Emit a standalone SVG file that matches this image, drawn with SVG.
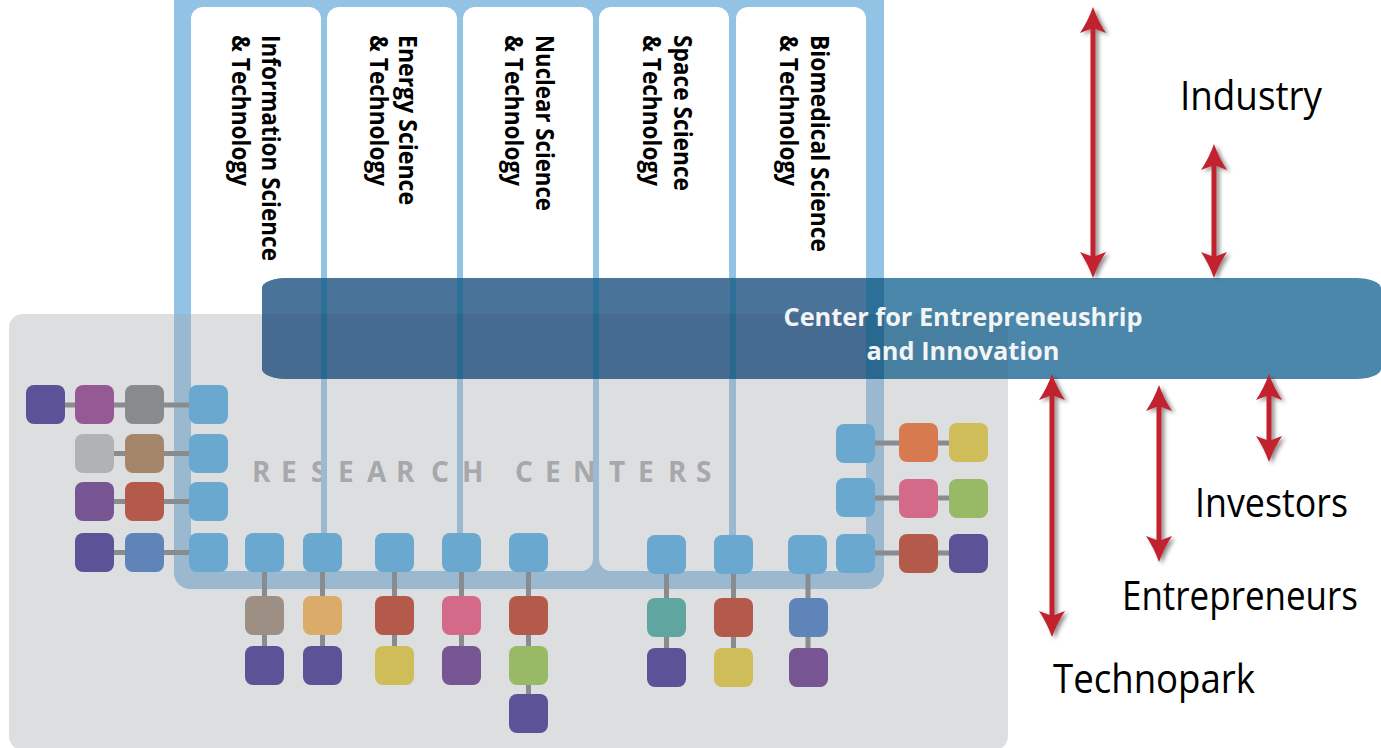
<svg xmlns="http://www.w3.org/2000/svg" width="1381" height="748" viewBox="0 0 1381 748">
<style>
.sq{width:39px;height:39px;}
.col{fill:#ffffff;}
.lbl{font-family:"Open Sans","Liberation Sans",sans-serif;font-weight:700;font-size:25px;fill:#000;}
.ext{font-family:"Open Sans","Liberation Sans",sans-serif;font-weight:400;font-size:40px;fill:#000;}
.band{font-family:"Open Sans","Liberation Sans",sans-serif;font-weight:700;font-size:25px;fill:#F2F4F6;}
.rc{font-family:"Open Sans","Liberation Sans",sans-serif;font-weight:700;font-size:28px;fill:#A7A8AC;}
.con line{stroke:#898B8F;stroke-width:5;}
.arr line{stroke:#C1202F;stroke-width:5;marker-start:url(#ah);marker-end:url(#ah);}
.b{fill:#6AA8CF}.ind{fill:#5A5398}.mag{fill:#955A95}.gr{fill:#898A8E}.lg{fill:#B1B2B5}.br{fill:#A5866A}
.pu{fill:#775593}.rd{fill:#B45A4A}.bl{fill:#5F84B9}.tp{fill:#9E8F85}.or{fill:#DBAB6A}.pk{fill:#D36A89}
.ye{fill:#CFBD5A}.gn{fill:#98B966}.te{fill:#5FA5A0}.oo{fill:#D87A50}
</style>
<defs>
<marker id="ah" markerUnits="userSpaceOnUse" markerWidth="26" markerHeight="28" viewBox="0 0 26 28" refX="6" refY="14" orient="auto-start-reverse">
<path d="M26,14 Q12,9 0,1 L5,14 L0,27 Q12,19 26,14 Z" fill="#C1202F"/>
</marker>
<filter id="sh" x="-50%" y="-10%" width="200%" height="120%">
<feDropShadow dx="3" dy="2" stdDeviation="2" flood-color="#000" flood-opacity="0.45"/>
</filter>
<rect id="bandShape" x="262" y="278" width="1119" height="101" rx="25" ry="10"/>
<clipPath id="bandClip"><use href="#bandShape"/></clipPath>
<rect id="s" width="39" height="39" rx="8"/>
</defs>
<rect width="1381" height="748" fill="#ffffff"/>

<g id="frame">
<rect x="174" y="-20" width="710" height="609" rx="16" fill="#92C3E5"/>
</g>
<g id="col-information">
<rect class="col" x="191" y="7" width="130" height="564" rx="12"/>
<text class="lbl" transform="translate(262,35) rotate(90)" textLength="226" lengthAdjust="spacingAndGlyphs">Information Science</text>
<text class="lbl" transform="translate(232,35) rotate(90)" textLength="151" lengthAdjust="spacingAndGlyphs">&amp; Technology</text>
</g>
<g id="col-energy">
<rect class="col" x="327" y="7" width="130" height="564" rx="12"/>
<text class="lbl" transform="translate(399,35) rotate(90)" textLength="170" lengthAdjust="spacingAndGlyphs">Energy Science</text>
<text class="lbl" transform="translate(370,35) rotate(90)" textLength="151" lengthAdjust="spacingAndGlyphs">&amp; Technology</text>
</g>
<g id="col-nuclear">
<rect class="col" x="463" y="7" width="130" height="564" rx="12"/>
<text class="lbl" transform="translate(536,35) rotate(90)" textLength="176" lengthAdjust="spacingAndGlyphs">Nuclear Science</text>
<text class="lbl" transform="translate(505,35) rotate(90)" textLength="151" lengthAdjust="spacingAndGlyphs">&amp; Technology</text>
</g>
<g id="col-space">
<rect class="col" x="599" y="7" width="130" height="564" rx="12"/>
<text class="lbl" transform="translate(674,35) rotate(90)" textLength="156" lengthAdjust="spacingAndGlyphs">Space Science</text>
<text class="lbl" transform="translate(643,35) rotate(90)" textLength="151" lengthAdjust="spacingAndGlyphs">&amp; Technology</text>
</g>
<g id="col-biomedical">
<rect class="col" x="736" y="7" width="130" height="564" rx="12"/>
<text class="lbl" transform="translate(811,35) rotate(90)" textLength="217" lengthAdjust="spacingAndGlyphs">Biomedical Science</text>
<text class="lbl" transform="translate(780,35) rotate(90)" textLength="151" lengthAdjust="spacingAndGlyphs">&amp; Technology</text>
</g>

<g id="research-centers">
<rect x="9" y="314" width="999" height="436" rx="14" fill="#A8AAAF" fill-opacity="0.39"/>
<text class="rc" y="482" x="252 281 311 338 367 396 431 462 490 515 545 573 609 638 668 696">RESEARCH CENTERS</text>
<g fill="#9BB9D0">
<rect x="321" y="440" width="6" height="60"/>
<rect x="457" y="440" width="6" height="60"/>
<rect x="593" y="440" width="6" height="60"/>
</g>
</g>

<g id="cei">
<use href="#bandShape" fill="#4B87AA"/>
<g clip-path="url(#bandClip)">
<rect x="262" y="278" width="605" height="101" fill="#4A7399"/>
<g fill="#2C6F98">
<rect x="866" y="278" width="18" height="101"/>
<rect x="321" y="278" width="6" height="101"/>
<rect x="457" y="278" width="6" height="101"/>
<rect x="593" y="278" width="6" height="101"/>
<rect x="730" y="278" width="6" height="101"/>
</g>
<rect x="250" y="314" width="758" height="70" fill="#000" fill-opacity="0.06"/>
</g>
<text class="band" x="963" y="326" text-anchor="middle" textLength="359" lengthAdjust="spacingAndGlyphs">Center for Entrepreneushrip</text>
<text class="band" x="963" y="360" text-anchor="middle" textLength="193" lengthAdjust="spacingAndGlyphs">and Innovation</text>
</g>

<g id="connectors" class="con">
<line x1="60" y1="405" x2="195" y2="405"/>
<line x1="110" y1="453.5" x2="195" y2="453.5"/>
<line x1="110" y1="501.5" x2="195" y2="501.5"/>
<line x1="110" y1="552.5" x2="195" y2="552.5"/>
<line x1="264.5" y1="568" x2="264.5" y2="650"/>
<line x1="322.5" y1="568" x2="322.5" y2="650"/>
<line x1="394.5" y1="568" x2="394.5" y2="650"/>
<line x1="461.5" y1="568" x2="461.5" y2="650"/>
<line x1="528.5" y1="568" x2="528.5" y2="700"/>
<line x1="666.5" y1="570" x2="666.5" y2="652"/>
<line x1="733.5" y1="570" x2="733.5" y2="652"/>
<line x1="808" y1="570" x2="808" y2="652"/>
<line x1="870" y1="443" x2="955" y2="443"/>
<line x1="870" y1="498" x2="955" y2="498"/>
<line x1="870" y1="553" x2="955" y2="553"/>
</g>

<g id="nodes-left">
<g id="n-l1a"><use href="#s" x="26" y="385" class="ind"/></g>
<g id="n-l1b"><use href="#s" x="75" y="385" class="mag"/></g>
<g id="n-l1c"><use href="#s" x="125" y="385" class="gr"/></g>
<g id="n-l1d"><use href="#s" x="189" y="385" class="b"/></g>
<g id="n-l2a"><use href="#s" x="75" y="434" class="lg"/></g>
<g id="n-l2b"><use href="#s" x="125" y="434" class="br"/></g>
<g id="n-l2c"><use href="#s" x="189" y="434" class="b"/></g>
<g id="n-l3a"><use href="#s" x="75" y="482" class="pu"/></g>
<g id="n-l3b"><use href="#s" x="125" y="482" class="rd"/></g>
<g id="n-l3c"><use href="#s" x="189" y="482" class="b"/></g>
<g id="n-l4a"><use href="#s" x="75" y="533" class="ind"/></g>
<g id="n-l4b"><use href="#s" x="125" y="533" class="bl"/></g>
<g id="n-l4c"><use href="#s" x="189" y="533" class="b"/></g>
</g>

<g id="nodes-bottom">
<g id="n-b1a"><use href="#s" x="245" y="533" class="b"/></g>
<g id="n-b1b"><use href="#s" x="245" y="596" class="tp"/></g>
<g id="n-b1c"><use href="#s" x="245" y="646" class="ind"/></g>
<g id="n-b2a"><use href="#s" x="303" y="533" class="b"/></g>
<g id="n-b2b"><use href="#s" x="303" y="596" class="or"/></g>
<g id="n-b2c"><use href="#s" x="303" y="646" class="ind"/></g>
<g id="n-b3a"><use href="#s" x="375" y="533" class="b"/></g>
<g id="n-b3b"><use href="#s" x="375" y="596" class="rd"/></g>
<g id="n-b3c"><use href="#s" x="375" y="646" class="ye"/></g>
<g id="n-b4a"><use href="#s" x="442" y="533" class="b"/></g>
<g id="n-b4b"><use href="#s" x="442" y="596" class="pk"/></g>
<g id="n-b4c"><use href="#s" x="442" y="646" class="pu"/></g>
<g id="n-b5a"><use href="#s" x="509" y="533" class="b"/></g>
<g id="n-b5b"><use href="#s" x="509" y="596" class="rd"/></g>
<g id="n-b5c"><use href="#s" x="509" y="646" class="gn"/></g>
<g id="n-b5d"><use href="#s" x="509" y="694" class="ind"/></g>
<g id="n-b6a"><use href="#s" x="647" y="535" class="b"/></g>
<g id="n-b6b"><use href="#s" x="647" y="598" class="te"/></g>
<g id="n-b6c"><use href="#s" x="647" y="648" class="ind"/></g>
<g id="n-b7a"><use href="#s" x="714" y="535" class="b"/></g>
<g id="n-b7b"><use href="#s" x="714" y="598" class="rd"/></g>
<g id="n-b7c"><use href="#s" x="714" y="648" class="ye"/></g>
<g id="n-b8a"><use href="#s" x="788" y="535" class="b"/></g>
<g id="n-b8b"><use href="#s" x="789" y="598" class="bl"/></g>
<g id="n-b8c"><use href="#s" x="789" y="648" class="pu"/></g>
</g>

<g id="nodes-right">
<g id="n-r1a"><use href="#s" x="836" y="424" class="b"/></g>
<g id="n-r1b"><use href="#s" x="899" y="423" class="oo"/></g>
<g id="n-r1c"><use href="#s" x="949" y="423" class="ye"/></g>
<g id="n-r2a"><use href="#s" x="836" y="478" class="b"/></g>
<g id="n-r2b"><use href="#s" x="899" y="479" class="pk"/></g>
<g id="n-r2c"><use href="#s" x="949" y="479" class="gn"/></g>
<g id="n-r3a"><use href="#s" x="836" y="534" class="b"/></g>
<g id="n-r3b"><use href="#s" x="899" y="534" class="rd"/></g>
<g id="n-r3c"><use href="#s" x="949" y="534" class="ind"/></g>
</g>

<g id="arrows" class="arr" filter="url(#sh)">
<line x1="1093" y1="27" x2="1093" y2="258"/>
<line x1="1214" y1="164" x2="1214" y2="258"/>
<line x1="1052" y1="394" x2="1052" y2="617"/>
<line x1="1159" y1="405" x2="1159" y2="542"/>
<line x1="1269" y1="394" x2="1269" y2="442"/>
</g>

<g id="industry"><text class="ext" x="1180" y="110" textLength="142" lengthAdjust="spacingAndGlyphs">Industry</text></g>
<g id="investors"><text class="ext" x="1195" y="517" textLength="153" lengthAdjust="spacingAndGlyphs">Investors</text></g>
<g id="entrepreneurs"><text class="ext" x="1122" y="610" textLength="236" lengthAdjust="spacingAndGlyphs">Entrepreneurs</text></g>
<g id="technopark"><text class="ext" x="1053" y="693" textLength="202" lengthAdjust="spacingAndGlyphs">Technopark</text></g>
</svg>
